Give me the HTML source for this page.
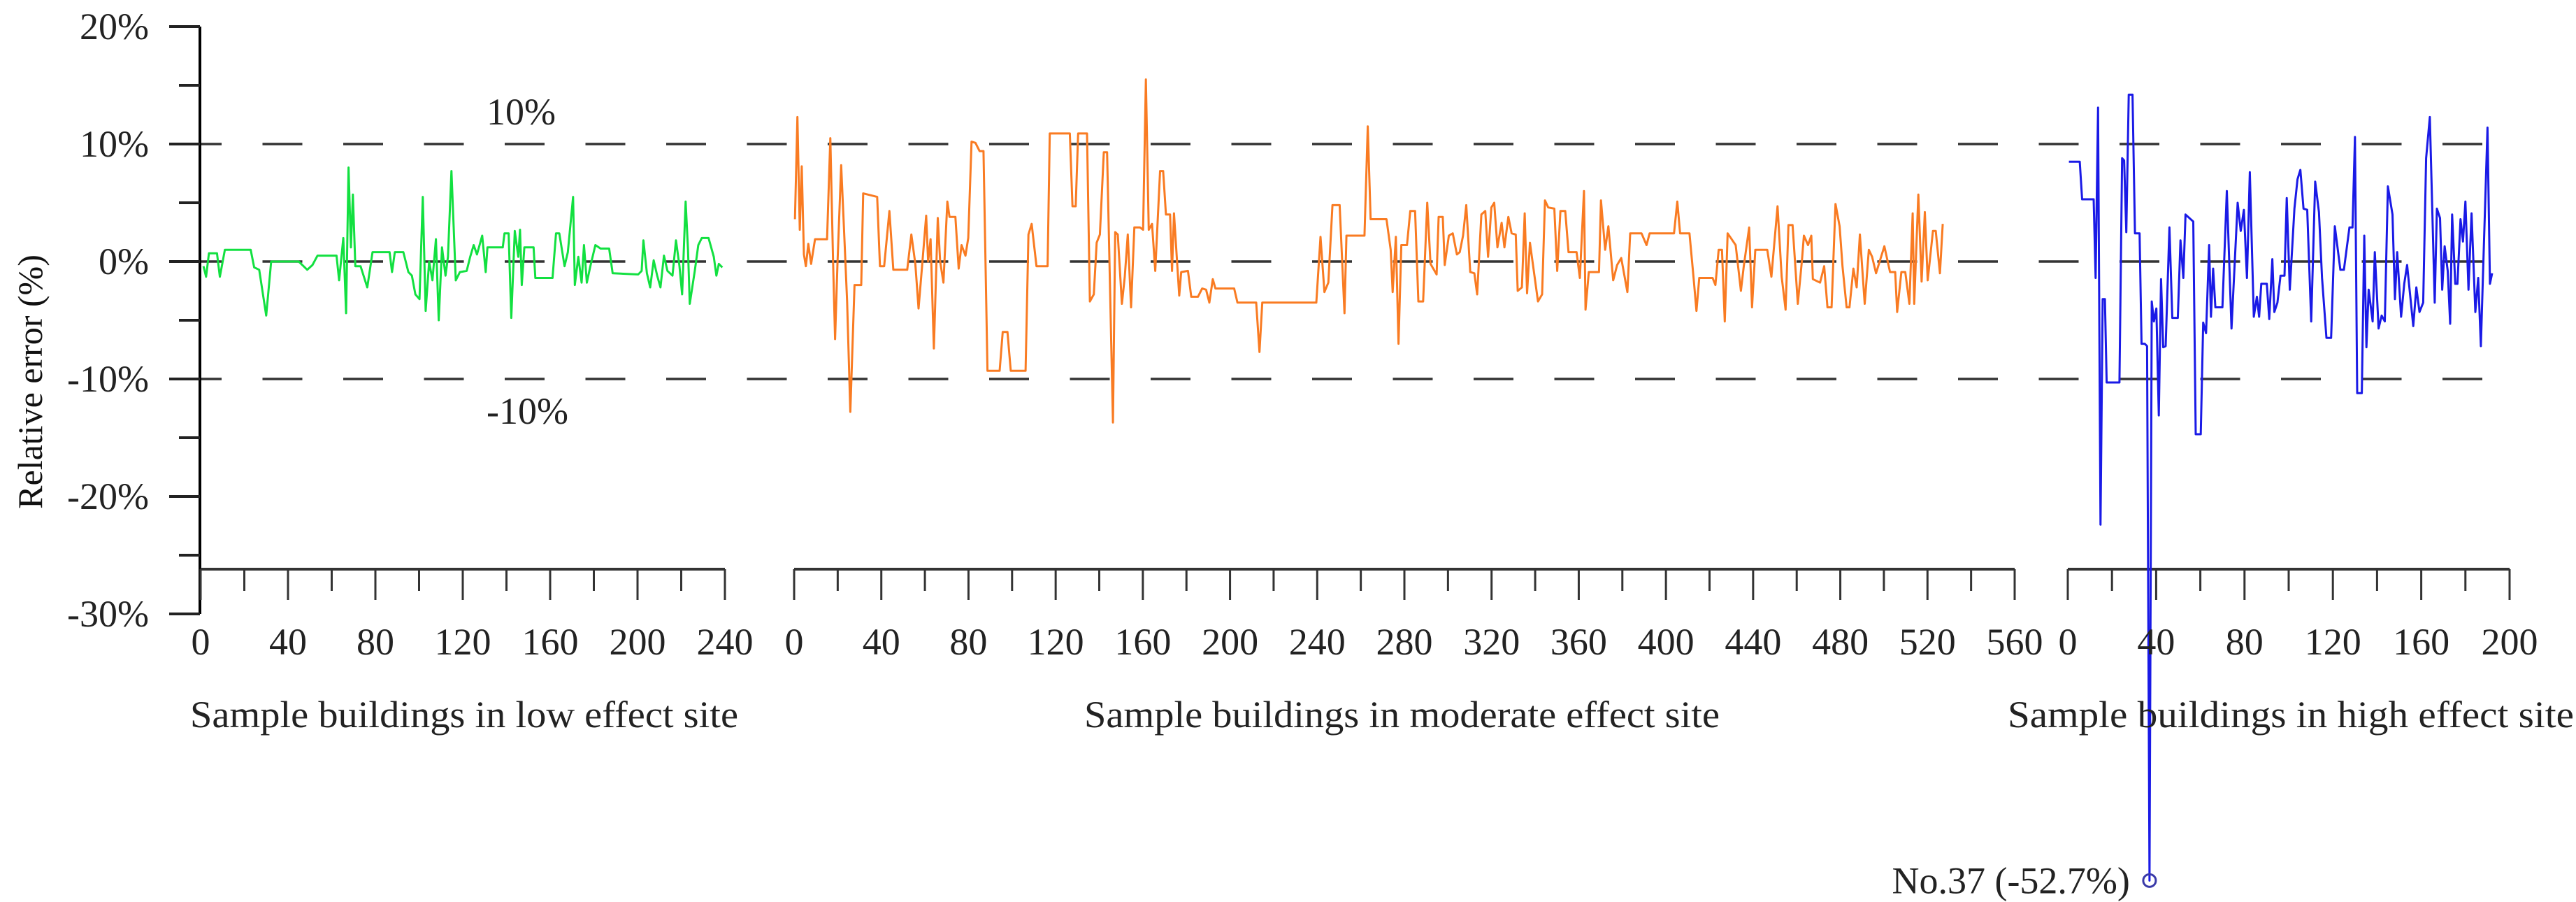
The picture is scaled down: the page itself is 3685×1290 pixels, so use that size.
<!DOCTYPE html>
<html><head><meta charset="utf-8">
<style>
html,body{margin:0;padding:0;background:#fff;}
svg{display:block;font-family:"Liberation Serif","Times New Roman",serif;}
</style></head>
<body>
<svg id="chart" width="3685" height="1290" viewBox="0 0 3685 1290" xmlns="http://www.w3.org/2000/svg">
<g id="grid"></g>
<g id="axes"></g>
<g id="series"></g>
<g id="labels"></g>
</svg>
<script>
// ---------- data ----------
const yTickValues = [20, 10, 0, -10, -20, -30];
const yTickLabels = ["20%", "10%", "0%", "-10%", "-20%", "-30%"];
const refLines = [10, 0, -10];
const lowTicks = [0, 40, 80, 120, 160, 200, 240];
const modTicks = [0, 40, 80, 120, 160, 200, 240, 280, 320, 360, 400, 440, 480, 520, 560];
const highTicks = [0, 40, 80, 120, 160, 200];

const lowX = [1.3,2.5,3.8,7.5,8.8,11.1,22.9,24.5,26.8,30,32.3,44.9,48.8,51.2,53.5,62.2,63.4,65.3,66.6,67.7,68.8,69.7,70.8,73.2,76.3,78.7,86.5,87.6,88.9,92.8,95.1,96.7,98.3,100.2,101.7,103,104.6,106.1,107.7,109,110.5,112.1,113.2,114.8,116.8,118.7,121.8,123.4,125,126.5,128.9,130.5,131.3,138.3,139.1,141,142.2,143.8,145.4,146.2,147,148.2,152.4,153.2,161.1,162.7,164.2,166.6,168.1,170.5,171.3,172.9,174.4,175.5,176.8,178.4,180.7,183.1,187,188.6,200.3,201.9,202.7,204.3,205.8,207.4,209,210.5,212.1,213.7,216,217.6,219.2,220.4,222,223.1,223.9,226.2,227.8,229.4,232.5,234.9,236.1,237.2,238.8];
const lowY = [-0.4,-1.3,0.7,0.7,-1.3,1.0,1.0,-0.5,-0.7,-4.6,0,0,-0.7,-0.3,0.5,0.5,-1.6,2.0,-4.4,8.0,1.2,5.7,-0.4,-0.4,-2.2,0.8,0.8,-0.9,0.8,0.8,-0.9,-1.2,-2.8,-3.2,5.5,-4.2,0,-1.6,1.9,-5.0,1.2,-1.2,0.4,7.7,-1.6,-0.9,-0.8,0.4,1.4,0.6,2.2,-0.9,1.2,1.2,2.4,2.4,-4.8,2.6,0.4,2.7,-2.0,1.2,1.2,-1.4,-1.4,2.4,2.4,-0.4,0.8,5.5,-2.0,0.4,-1.8,1.4,-1.8,-0.4,1.4,1.1,1.1,-1.0,-1.1,-0.8,1.8,-1.0,-2.2,0.1,-1.2,-2.2,0.5,-0.8,-1.2,1.8,-0.4,-2.8,5.1,1.0,-3.6,-0.8,1.4,2.0,2.0,0.4,-1.2,-0.2,-0.5];

const modX = [0.4,1.5,2.6,3.5,4.5,5.4,6.5,7.8,9.6,15.1,16.6,17.9,18.8,19.9,21.6,22.9,24.3,25.8,27.7,30.8,31.7,38.1,39.4,41.3,43.7,45.5,51.9,53.8,55.6,57.1,58.9,60.6,61.5,62.6,64.1,65.9,67,68.5,70.3,71.3,74,75.5,76.8,78.6,79.9,81.4,83.2,85.1,86.9,88.7,94.3,95.7,97.9,99.4,106.2,107.5,109,111.2,116.3,117.3,126.5,127.7,129.2,130.3,134.4,135.7,137.5,138.8,140.3,142.1,143.6,146.3,147.3,148.5,150.4,151.7,153.1,154.6,156.1,158.7,160.1,161.4,162.7,164.2,165.7,167.9,169.3,170.6,172.5,173.4,174.3,176.7,177.6,180.7,182.2,185.3,187.2,189,190.5,192.1,193.3,201.9,203.4,212,213.5,214.8,239.6,241.5,243.3,245.1,247,250.3,252.5,253.4,261.7,263.2,264.5,271.8,273.7,274.6,276.1,277.3,
278.6,281.2,282.7,284.9,286.4,288.6,290.5,292,294.8,295.7,297.6,298.5,300.4,302.2,304.1,305.4,306.9,308.4,310.2,312.1,313.4,315.3,317.1,318.4,319.9,321.2,322.7,324.6,325.9,327.7,329.2,331.1,332,333.9,335.2,336.3,337.6,341.3,343.2,344.5,346,348.8,350.1,351.6,353.8,355.3,359,360.5,362.4,363.1,364.6,369.3,370.2,372.1,373.6,375.8,377.6,379.5,382.3,383.6,388.8,391.1,392.5,403.7,405.2,406.5,410.8,412.7,414,415.3,421.4,422.7,424.2,425.7,427,428.3,432,434.4,435.7,438.2,439.5,441,446.5,448.4,451.2,453.1,454.9,456.2,458.1,460.5,462.4,463.3,465.2,466.7,467.4,470.7,472.6,474.1,476,477.8,479.7,481,482.9,484.2,486,487.5,489,491.2,493.1,494.6,496.4,497.7,500.2,502.8,505.2,506.1,508,509.8,511.7,513.2,513.9,515.8,517.3,518.8,520.1,522.5,523.8,525.7,527];
const modY = [3.6,12.3,2.7,8.1,0.6,-0.4,1.5,-0.2,1.9,1.9,10.5,-0.2,-6.6,-0.2,8.2,2.7,-3.4,-12.8,-2.0,-2.0,5.8,5.5,-0.4,-0.4,4.3,-0.7,-0.7,2.3,-0.2,-4.0,0,3.9,0,1.9,-7.4,3.7,0,-1.8,5.1,3.8,3.8,-0.6,1.4,0.5,2.0,10.2,10.1,9.4,9.4,-9.3,-9.3,-6.0,-6.0,-9.3,-9.3,2.3,3.2,-0.4,-0.4,10.9,10.9,4.7,4.7,10.9,10.9,-3.4,-2.8,1.6,2.3,9.3,9.3,-13.7,2.5,2.3,-3.6,-1.3,2.3,-3.9,2.9,2.9,2.7,15.5,2.7,3.2,-0.8,7.7,7.7,4.0,4.0,-0.8,4.1,-2.9,-0.9,-0.8,-3.0,-3.0,-2.3,-2.4,-3.5,-1.5,-2.3,-2.3,-3.5,-3.5,-7.7,-3.5,-3.5,2.1,-2.6,-1.8,4.8,4.8,-4.4,2.2,2.2,11.5,3.6,3.6,1.0,-2.6,2.1,-7.0,
1.4,1.4,4.3,4.3,-3.4,-3.4,5.0,-0.2,-1.1,3.8,3.8,-0.3,2.2,2.4,0.6,0.8,2.2,4.8,-0.9,-1.0,-2.8,4.0,4.3,0.4,4.6,5.0,1.2,3.3,1.2,3.8,2.4,2.3,-2.5,-2.2,4.1,-2.7,1.6,-3.4,-2.8,5.2,4.6,4.5,-0.8,4.3,4.3,0.8,0.8,-1.4,6.0,-4.1,-0.9,-0.9,5.2,1.0,3.0,-1.6,-0.3,0.3,-2.6,2.4,2.4,1.4,2.4,2.4,5.1,2.4,2.4,-1.4,-4.2,-1.4,-1.4,-2.0,1.0,1.0,-5.1,2.4,1.4,-2.5,-0.4,2.9,-3.9,1.0,1.0,-1.3,4.7,-1.3,-4.1,3.1,3.1,-3.6,0.1,2.2,1.4,2.2,-1.5,-1.8,-0.4,-3.9,-3.9,4.9,3.0,-0.4,-3.9,-3.9,-0.6,-2.2,2.3,-3.6,1.0,0.4,-1.0,-0.2,1.3,-0.9,-0.9,-4.3,-0.9,-0.9,-3.6,4.1,-3.6,5.7,-1.7,4.2,-1.6,2.6,2.6,-1.0,3.2];

const highX = [0.5,5.4,6.5,11.7,12.6,13.7,14.8,15.8,16.8,17.6,23.4,24.6,25.5,26.5,27.6,29.3,30.4,32.5,33.4,34.8,35.9,37,38,39,40.1,41.2,42.2,43.2,44.3,46,47.3,49.8,51,52.3,53.3,56.8,57.9,60.2,61.3,62.6,64,64.8,65.8,66.8,70,72,74.1,76.9,78.3,79.7,81.1,82.4,84.2,85.6,86.6,87.6,90.1,91.2,92.6,93.5,94.9,96.3,98.1,99.1,100.5,102.6,104,105.3,106.7,108.4,110.2,112,113.7,115.1,117.1,119.2,120.9,123.4,125,127.5,128.9,130,131,133.1,134.2,135.2,136.2,138,139,140.7,142.1,143.5,144.9,147,148.1,149.1,150.9,152.3,153.6,155,156.4,157.8,159.2,160.9,162.2,163.9,166.1,167.1,168.5,169.5,170.6,172,173.1,174,175.4,176.4,177.8,178.9,180,181.4,182.8,184.5,185.8,187,187.9,190,191.1,192.1];
const highY = [8.5,8.5,5.3,5.3,-1.4,13.1,-22.4,-3.2,-3.2,-10.3,-10.3,8.8,8.6,2.5,14.2,14.2,2.4,2.4,-7.0,-7.0,-7.2,-52.7,-3.4,-5.1,-4.0,-13.1,-1.5,-7.3,-7.2,2.9,-4.8,-4.8,1.8,-1.4,4.0,3.4,-14.7,-14.7,-5.2,-6.1,1.4,-4.7,-0.6,-3.9,-3.9,6.0,-5.7,5.0,2.6,4.4,-1.4,7.6,-4.7,-3.0,-4.7,-1.9,-1.9,-4.9,0.2,-4.3,-3.5,-1.2,-1.2,5.4,-2.4,4.5,7.0,7.8,4.5,4.4,-5.1,6.8,4.2,-1.4,-6.5,-6.5,3.0,-0.7,-0.7,2.9,2.9,10.6,-11.2,-11.2,2.2,-7.3,-2.4,-5.1,0.8,-5.7,-4.6,-5.1,6.4,4.0,-3.2,0.8,-4.7,-1.9,-0.3,-2.9,-5.5,-2.2,-4.3,-3.5,8.8,12.3,-3.5,4.5,3.7,-2.4,1.3,-0.8,-5.3,4.0,-1.9,-1.9,3.6,1.7,5.1,-2.4,4.1,-4.3,-1.4,-7.2,-1.4,11.4,-1.9,-1.0];

// ---------- layout ----------
const NS = "http://www.w3.org/2000/svg";
const Y0 = 374, PX_PER_PCT = 16.8;
const AXIS_X = 286, XAXIS_Y = 814;
const panels = [
  {name:"low", x0:287, max:240, px:750/240, ticks:lowTicks, xs:lowX, ys:lowY, color:"#12e040", title:"Sample buildings in low effect site", tx:272, tw:784},
  {name:"moderate", x0:1136, max:560, px:1746/560, ticks:modTicks, xs:modX, ys:modY, color:"#f97b22", title:"Sample buildings in moderate effect site", tx:1551, tw:909},
  {name:"high", x0:2958, max:200, px:632/200, ticks:highTicks, xs:highX, ys:highY, color:"#1a1ae6", title:"Sample buildings in high effect site", tx:2872, tw:810}
];
function yScale(v){ return Y0 - v*PX_PER_PCT; }
function xScale(p, v){ return p.x0 + v*p.px; }
function mk(tag, attrs, parent){ const e=document.createElementNS(NS,tag); for(const k in attrs) e.setAttribute(k,attrs[k]); parent.appendChild(e); return e; }

const grid=document.getElementById("grid"), axes=document.getElementById("axes"), series=document.getElementById("series"), labels=document.getElementById("labels");

// reference dashed lines
refLines.forEach(v=>{
  const l=mk("line",{x1:260,x2:3592,y1:yScale(v),y2:yScale(v),stroke:"#333",'stroke-width':3.5,'stroke-dasharray':"57 58.5"},grid);
  
  
});

// y axis
const ya=mk("line",{x1:AXIS_X,x2:AXIS_X,y1:yScale(20),y2:yScale(-30),stroke:"#000",'stroke-width':4},axes);


for(let v=20; v>=-30; v-=5){
  const major = v%10===0;
  const t=mk("line",{x1:major?242:256,x2:AXIS_X,y1:yScale(v),y2:yScale(v),stroke:"#222",'stroke-width':4},axes);
  
  
}
yTickValues.forEach((v,i)=>{
  const t=mk("text",{x:213,y:yScale(v)+18,'text-anchor':"end",'font-size':54,fill:"#222"},labels);
  t.textContent=yTickLabels[i];
  
  
});
const yt=mk("text",{x:0,y:0,'text-anchor':"middle",'font-size':50,fill:"#111",transform:"translate(60,546) rotate(-90)"},labels);
yt.textContent="Relative error (%)";



// panels
panels.forEach(p=>{
  const xEnd = xScale(p,p.max);
  const xl=mk("line",{x1:p.x0,x2:xEnd,y1:XAXIS_Y,y2:XAXIS_Y,stroke:"#333",'stroke-width':4},axes);
  
  
  for(let v=0; v<=p.max; v+=20){
    const major = v%40===0;
    const t=mk("line",{x1:xScale(p,v),x2:xScale(p,v),y1:XAXIS_Y,y2:major?858:845,stroke:"#333",'stroke-width':3},axes);
    
    
  }
  p.ticks.forEach(v=>{
    const t=mk("text",{x:xScale(p,v),y:936,'text-anchor':"middle",'font-size':54,fill:"#222"},labels);
    t.textContent=String(v);
    
    
  });
  const tt=mk("text",{x:p.tx,y:1040,'font-size':54,fill:"#222",textLength:p.tw,lengthAdjust:"spacingAndGlyphs"},labels);
  tt.textContent=p.title;
  
  

  const pts=p.xs.map((x,i)=>xScale(p,x).toFixed(1)+","+yScale(p.ys[i]).toFixed(1)).join(" ");
  const pl=mk("polyline",{points:pts,fill:"none",stroke:p.color,'stroke-width':3,'stroke-linejoin':"round"},series);
  
  
});

// annotations
const a1=mk("text",{x:696,y:178,'font-size':54,fill:"#222"},labels);
a1.textContent="10%";


const a2=mk("text",{x:696,y:606,'font-size':54,fill:"#222"},labels);
a2.textContent="-10%";



// outlier marker
const hp=panels[2];
const oi=highY.indexOf(Math.min(...highY));
const mx=xScale(hp,highX[oi]), my=yScale(highY[oi]);
const c=mk("circle",{cx:mx,cy:my,r:9,fill:"none",stroke:"#3a3aa8",'stroke-width':3},series);


const ol=mk("text",{x:mx-28,y:my+18,'text-anchor':"end",'font-size':54,fill:"#222"},labels);
ol.textContent="No.37 (-52.7%)";


</script>
</body></html>
